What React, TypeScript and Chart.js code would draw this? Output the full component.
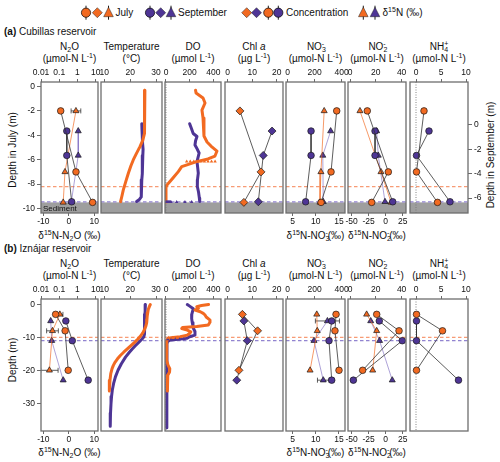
import React, { useEffect, useRef } from "react";
import { Chart, registerables } from "chart.js";

Chart.register(...registerables);

const FONT = '"Liberation Sans", Arial, Helvetica, sans-serif';
Chart.defaults.font.family = FONT;

// ---------------- tick labels ----------------
const n2oTicks = [0.01, 0.1, 1, 10];
const d15N2OTicks = [-10, 0, 10];
const tempTicks = [10, 20, 30];
const doTicks = [0, 200, 400];
const chlTicks = [0, 10, 20];
const no3Ticks = [0, 200, 400];
const d15NO3Ticks = [5, 10, 15];
const no2Ticks = [0, 20, 40];
const d15NO2Ticks = [-50, -25, 0, 25];
const nh4Ticks = [0, 5, 10];
const cubJulyDepthTicks = [0, -2, -4, -6, -8, -10];
const cubSeptDepthTicks = [0, -2, -4, -6];
const izDepthTicks = [0, -10, -20, -30];

// ---------------- (a) Cubillas: discrete samples ----------------
const cubJulyDepth = [-2, -7, -9.5];
const cubSeptDepth = [-0.5, -2.5, -6.3];
const cubJulyN2O = [0.12, 0.83, 6.8];
const cubSeptN2O = [0.26, 0.26, 0.48];
const cubJulyD15N2O = [2.8, -1.5, -2.2];
const cubJulyD15N2OErr = [1.9, 0, 0];
const cubSeptD15N2O = [3.7, 3.7, 1.0];
const cubJulyChl = [5.0, 13.6, 6.6];
const cubSeptChl = [18.1, 14.5, 12.5];
const cubJulyNO3 = [363, 321, 247];
const cubSeptNO3 = [173, 173, 133];
const cubJulyD15NO3 = [11.8, 11.1, 10.9];
const cubSeptD15NO3 = [13.2, 11.5, 11.6];
const cubJulyNO2 = [13.4, 29.7, 16.8];
const cubSeptNO2 = [19.4, 19.4, 33.1];
const cubJulyD15NO2 = [-37.8, -6.9, 8.0];
const cubSeptD15NO2 = [-13.3, -10.9, -1.0];
const cubJulyNH4 = [1.6, 0.1, 4.3];
const cubSeptNH4 = [2.6, 0.1, 6.8];

// ---------------- (a) Cubillas: profiles ----------------
const cubJulyTempDepth = [-0.3, -1.0, -2.0, -3.0, -3.84, -4.4, -4.93, -5.5, -6.02, -6.5, -7.11, -7.8, -8.48, -9.0, -9.44];
const cubJulyTemp = [25.7, 25.7, 25.6, 25.5, 25.4, 24.9, 23.8, 22.4, 21.2, 20.3, 19.3, 18.3, 17.35, 16.8, 16.3];
const cubSeptTempDepth = [0.1, -0.5, -1.0, -1.5, -2.0, -2.5, -3.0, -3.5, -4.0, -4.5, -5.0, -5.5, -5.9, -6.1, -6.28];
const cubSeptTemp = [24.5, 24.6, 24.7, 24.9, 25.0, 24.9, 24.8, 24.7, 24.6, 24.5, 24.4, 24.3, 24.2, 23.6, 22.5];
const cubJulyDODepth = [-0.3, -0.53, -0.94, -1.35, -1.93, -2.58, -3.24, -4.06, -4.55, -4.88, -5.29, -5.7, -5.94, -6.16, -6.57, -6.98, -7.5, -8.07, -8.24, -9.47];
const cubJulyDO = [250, 254, 313, 330, 304, 313, 321, 321, 347, 380, 431, 414, 355, 259, 133, 104, 59, 8, 0, 0];
const cubSeptDODepth = [0.1, -0.3, -0.7, -0.95, -1.3, -1.65, -2.0, -2.3, -2.7, -3.0, -3.5, -3.95, -4.5, -5.05, -5.5, -6.0, -6.28];
const cubSeptDO = [200, 215, 230, 262, 250, 245, 265, 280, 270, 262, 268, 273, 266, 265, 275, 282, 285];
const cubJulyDORunDepth = -6.15;
const cubJulyDORun = [175, 205, 235, 265, 295, 325, 355, 385, 415];
const cubSeptDORunDepth = -6.32;
const cubSeptDORun = [0, 6, 12, 18, 24, 30, 36, 42, 90, 160, 217];
const cubSedimentJuly = -9.5;
const cubJulyOxycline = -8.2;
const cubSeptOxycline = -6.3;

// ---------------- (b) Iznájar: discrete samples ----------------
const izJulyDepth = [-3, -8, -20];
const izSeptDepth = [-5, -11, -23];
const izJulyN2O = [0.063, 0.21, 0.31];
const izSeptN2O = [0.23, 0.52, 3.9];
const izJulyD15N2O = [-3.5, -6.4, -7.6];
const izJulyD15N2OErr = [1.2, 2.3, 3.4];
const izSeptD15N2O = [-7.1, -6.7, -2.2];
const izJulyChl = [6.0, 12.2, 4.6];
const izSeptChl = [6.6, 8.0, 3.7];
const izJulyNO3 = [358, 350, 380];
const izSeptNO3 = [326, 306, 326];
const izJulyD15NO3 = [10.2, 10.3, 8.75];
const izSeptD15NO3 = [12.5, 9.6, 11.6];
const izSeptD15NO3Err = [2.6, 0, 1.25];
const izJulyNO2 = [20.7, 38, 9.8];
const izSeptNO2 = [22.7, 40.5, 2.6];
const izJulyD15NO2 = [-28, -13.2, -19.1];
const izSeptD15NO2 = [-22, -9, 9.7];
const izJulyNH4 = [0.1, 5.3, 0.1];
const izSeptNH4 = [0.1, 0.1, 8.5];

// ---------------- (b) Iznájar: profiles ----------------
const izJulyTempDepth = [0, -0.5, -1.5, -2.5, -3.5, -4.5, -5.5, -6.5, -7.5, -8.5, -9.5, -10.5, -11.5, -12.5, -13.5, -14.5, -15.5, -16.5, -17.5, -18.5, -19.5, -21, -23, -25, -26.3];
const izJulyTemp = [27.8, 27.5, 27.0, 26.8, 26.6, 26.5, 26.4, 26.1, 25.6, 25.0, 24.1, 23.0, 21.7, 20.3, 18.9, 17.5, 16.2, 15.1, 14.2, 13.5, 13.0, 12.5, 12.2, 12.0, 11.9];
const izSeptTempDepth = [0, -1, -2, -3, -4, -5, -6, -7, -8, -9, -9.8, -10.5, -11.5, -12.5, -13.5, -14.5, -16, -18, -20, -22, -24, -26, -28, -30, -33, -37];
const izSeptTemp = [25.9, 25.8, 25.8, 25.7, 25.7, 25.6, 25.6, 25.5, 25.5, 25.4, 25.3, 24.6, 23.3, 22.0, 20.8, 19.7, 18.2, 16.6, 15.3, 14.3, 13.6, 13.1, 12.8, 12.6, 12.4, 12.3];
const izJulyDODepth = [0, -0.3, -0.7, -1.2, -1.7, -2.2, -2.7, -3.2, -3.8, -4.7, -5.4, -6.2, -6.7, -7.0, -7.3, -7.8, -8.3, -8.8, -9.3, -9.8, -10.0, -10.2, -10.6, -11.2, -13, -15, -17, -18.5, -19.5, -20.5, -21.5, -23, -25, -26.3];
const izJulyDO = [360, 300, 260, 274, 245, 290, 315, 330, 340, 370, 372, 358, 260, 140, 133, 180, 210, 200, 180, 120, 60, 30, 12, 6, 5, 5, 8, 18, 32, 30, 15, 10, 12, 14];
const izSeptDODepth = [0, -0.5, -1.3, -2.0, -3.0, -4.3, -5.5, -6.5, -7.3, -8.2, -9.3, -9.8, -10.3, -10.6, -10.9, -11.2, -12, -16, -20, -25, -30, -34, -37.5];
const izSeptDO = [180, 200, 231, 225, 218, 217, 222, 228, 232, 245, 245, 200, 175, 100, 30, 14, 8, 7, 7, 7, 7, 7, 7];
const izJulyDORunDepth = -10.1;
const izJulyDORun = [20, 55, 95];
const izSeptDORunDepth = -10.6;
const izSeptDORun = [15, 45, 80, 115, 150];
const izJulyOxycline = -10;
const izSeptOxycline = -11;

// ---------------- styles / layout ----------------
const ORANGE = "#F26A21";
const PURPLE = "#4E3595";
const ORANGE_LINE = "rgba(242,106,33,0.85)";
const PURPLE_LINE = "rgba(110,90,185,0.7)";
const CONC_LINE = "#333";
const ORANGE_DASH = "rgba(247,150,110,0.95)";
const PURPLE_DASH = "rgba(140,125,205,0.95)";

const FRAMES_X = [[41, 98], [101, 162], [165, 221], [225, 283], [286, 345], [348, 406], [410, 468]];
const PANEL_Y = { a: [82, 213], b: [299, 431] };
const R = {
  n2o: [0.0099, 13.5], d15n2o: [-10.9, 11.45], temp: [8.72, 32.32], do: [-8.45, 465], chl: [-1.1, 22.57],
  no3: [-12.6, 424.4], d15no3: [3.55, 16.3], no2: [-1.55, 43.4], d15no2: [-55.4, 29.9], nh4: [-1.2, 10.4],
  cubJuly: [-10.37, 0.37], cubSept: [-7.22, 3.52], iz: [-38.45, 1.67],
};
const TOP_H = 20;
const BOT_H = 20;
const SIDE = 15;

const zip = (xs: number[], ys: number[]) => xs.map((x, i) => ({ x, y: ys[i] }));

function markers(xs, ys, color, style, xID, yID, lineColor, radius, order, errX?) {
  return {
    data: zip(xs, ys), showLine: true, borderColor: lineColor, borderWidth: 0.8,
    pointStyle: style, pointRadius: radius, pointBackgroundColor: color,
    pointBorderColor: "#1a1a1a", pointBorderWidth: 0.7, xAxisID: xID, yAxisID: yID, order, errX,
  };
}
function profile(xs, ys, color, yID) {
  return {
    data: zip(xs, ys), showLine: true, borderColor: color, borderWidth: 3, pointRadius: 0,
    xAxisID: "x", yAxisID: yID, order: 5, borderJoinStyle: "round", borderCapStyle: "round",
  };
}
function run(xs, depth, color, yID) {
  return {
    data: xs.map((x) => ({ x, y: depth })), showLine: false, pointStyle: "triangle", pointRadius: 2,
    pointBackgroundColor: color, pointBorderWidth: 0, borderColor: color, xAxisID: "x", yAxisID: yID, order: 4,
  };
}

const fmt = (v: number) => String(v);
const tickFont = { family: FONT, size: 8.5 };

function xScale(type, range, ticks, position) {
  return {
    type, position, axis: "x", min: range[0], max: range[1], bounds: "data",
    afterBuildTicks: (s) => { s.ticks = ticks.map((v) => ({ value: v })); },
    afterFit: (s) => { s.height = position === "top" ? TOP_H : BOT_H; },
    ticks: { font: tickFont, color: "#111", padding: 1, autoSkip: false, maxRotation: 0, minRotation: 0, callback: fmt },
    grid: { display: true, drawOnChartArea: false, drawTicks: true, tickLength: 3, color: "#444", lineWidth: 0.8 },
    border: { display: false },
  };
}
function yScale(range, ticks, position, display, width) {
  return {
    type: "linear", axis: "y", position, min: range[0], max: range[1], bounds: "data", display,
    afterBuildTicks: (s) => { s.ticks = ticks.map((v) => ({ value: v })); },
    afterFit: (s) => { if (display) s.width = width; },
    ticks: { font: tickFont, color: "#111", padding: 2, autoSkip: false, callback: fmt },
    grid: { display: true, drawOnChartArea: false, drawTicks: true, tickLength: 4, color: "#444", lineWidth: 0.8 },
    border: { display: false },
  };
}

const decoPlugin = {
  id: "deco",
  beforeDatasetsDraw(chart, _args, opts) {
    const { ctx, chartArea: a, scales } = chart;
    ctx.save();
    ctx.beginPath();
    ctx.rect(a.left, a.top, a.right - a.left, a.bottom - a.top);
    ctx.clip();
    if (opts.sediment != null) {
      const y = scales.y.getPixelForValue(opts.sediment);
      ctx.fillStyle = "#9e9e9e";
      ctx.fillRect(a.left, y, a.right - a.left, a.bottom - y);
      if (opts.sedimentLabel) {
        ctx.fillStyle = "#111";
        ctx.font = `8px ${FONT}`;
        ctx.textBaseline = "alphabetic";
        ctx.fillText(opts.sedimentLabel, a.left + 2, a.bottom - 2.5);
      }
    }
    if (opts.zero) {
      const x = scales.x.getPixelForValue(0);
      ctx.strokeStyle = "#777";
      ctx.lineWidth = 0.9;
      ctx.setLineDash([1, 1.5]);
      ctx.beginPath();
      ctx.moveTo(x, a.top);
      ctx.lineTo(x, a.bottom);
      ctx.stroke();
    }
    for (const h of opts.hlines || []) {
      const y = scales[h.axis].getPixelForValue(h.value);
      ctx.strokeStyle = h.color;
      ctx.lineWidth = 1.2;
      ctx.setLineDash([3.5, 2.5]);
      ctx.beginPath();
      ctx.moveTo(a.left, y);
      ctx.lineTo(a.right, y);
      ctx.stroke();
    }
    ctx.setLineDash([]);
    chart.data.datasets.forEach((ds) => {
      if (!ds.errX) return;
      const xs = scales[ds.xAxisID];
      const ys = scales[ds.yAxisID];
      ds.data.forEach((p, j) => {
        const e = ds.errX[j];
        if (!e) return;
        const x0 = xs.getPixelForValue(p.x - e);
        const x1 = xs.getPixelForValue(p.x + e);
        const y = ys.getPixelForValue(p.y);
        ctx.strokeStyle = "#333";
        ctx.lineWidth = 0.8;
        ctx.beginPath();
        ctx.moveTo(x0, y); ctx.lineTo(x1, y);
        ctx.moveTo(x0, y - 2.5); ctx.lineTo(x0, y + 2.5);
        ctx.moveTo(x1, y - 2.5); ctx.lineTo(x1, y + 2.5);
        ctx.stroke();
      });
    });
    ctx.restore();
  },
  afterDraw(chart) {
    const { ctx, chartArea: a } = chart;
    ctx.save();
    ctx.strokeStyle = "#6e6e6e";
    ctx.lineWidth = 1.3;
    ctx.strokeRect(a.left, a.top, a.right - a.left, a.bottom - a.top);
    ctx.restore();
  },
};

type Spec = { cl: number; ct: number; cw: number; ch: number; make: () => any };

function spec(col, panel, xTop, xBot, datasets, deco, showLeft, showRight, yL, yR) {
  const [l, r] = FRAMES_X[col];
  const [t, b] = PANEL_Y[panel];
  const cl = showLeft ? 0 : l - SIDE;
  const cr = showRight ? 500 : r + SIDE;
  const ct = t - TOP_H;
  const ch = b - t + TOP_H + BOT_H;
  const make = () => {
    const scales: any = {
      x: xScale(xTop.type, xTop.range, xTop.ticks, "top"),
      y: yScale(yL.range, yL.ticks, "left", showLeft, l - cl),
    };
    if (xBot) scales.x2 = xScale("linear", xBot.range, xBot.ticks, "bottom");
    if (yR) scales.y2 = yScale(yR.range, yR.ticks, "right", showRight, cr - r);
    return {
      type: "scatter",
      data: { datasets: datasets() },
      options: {
        responsive: false, maintainAspectRatio: false, animation: false,
        layout: { padding: { left: showLeft ? 0 : SIDE, right: showRight ? 0 : SIDE, top: 0, bottom: xBot ? 0 : BOT_H } },
        scales,
        plugins: { legend: { display: false }, tooltip: { enabled: false }, deco },
      },
      plugins: [decoPlugin],
    };
  };
  return { cl, ct, cw: cr - cl, ch, make } as Spec;
}

function buildSpecs(): Spec[] {
  const out: Spec[] = [];
  // ---------- (a) Cubillas ----------
  const yA = { range: R.cubJuly, ticks: cubJulyDepthTicks };
  const yA2 = { range: R.cubSept, ticks: cubSeptDepthTicks };
  const decoA = (extra = {}) => ({
    sediment: cubSedimentJuly,
    hlines: [{ axis: "y", value: cubJulyOxycline, color: ORANGE_DASH }, { axis: "y2", value: cubSeptOxycline, color: PURPLE_DASH }],
    ...extra,
  });
  out.push(spec(0, "a", { type: "logarithmic", range: R.n2o, ticks: n2oTicks }, { range: R.d15n2o, ticks: d15N2OTicks }, () => [
    markers(cubJulyN2O, cubJulyDepth, ORANGE, "circle", "x", "y", CONC_LINE, 3.3, 1),
    markers(cubSeptN2O, cubSeptDepth, PURPLE, "circle", "x", "y2", CONC_LINE, 3.3, 1),
    markers(cubJulyD15N2O, cubJulyDepth, ORANGE, "triangle", "x2", "y", ORANGE_LINE, 3.5, 2, cubJulyD15N2OErr),
    markers(cubSeptD15N2O, cubSeptDepth, PURPLE, "triangle", "x2", "y2", PURPLE_LINE, 3.5, 2),
  ], decoA({ sedimentLabel: "Sediment" }), true, false, yA, yA2));
  out.push(spec(1, "a", { type: "linear", range: R.temp, ticks: tempTicks }, null, () => [
    profile(cubJulyTemp, cubJulyTempDepth, ORANGE, "y"),
    profile(cubSeptTemp, cubSeptTempDepth, PURPLE, "y2"),
  ], decoA(), false, false, yA, yA2));
  out.push(spec(2, "a", { type: "linear", range: R.do, ticks: doTicks }, null, () => [
    profile(cubJulyDO, cubJulyDODepth, ORANGE, "y"),
    profile(cubSeptDO, cubSeptDODepth, PURPLE, "y2"),
    run(cubJulyDORun, cubJulyDORunDepth, ORANGE, "y"),
    run(cubSeptDORun, cubSeptDORunDepth, PURPLE, "y2"),
  ], decoA({ zero: true }), false, false, yA, yA2));
  out.push(spec(3, "a", { type: "linear", range: R.chl, ticks: chlTicks }, null, () => [
    markers(cubJulyChl, cubJulyDepth, ORANGE, "rectRot", "x", "y", CONC_LINE, 4, 1),
    markers(cubSeptChl, cubSeptDepth, PURPLE, "rectRot", "x", "y2", CONC_LINE, 4, 1),
  ], decoA(), false, false, yA, yA2));
  out.push(spec(4, "a", { type: "linear", range: R.no3, ticks: no3Ticks }, { range: R.d15no3, ticks: d15NO3Ticks }, () => [
    markers(cubJulyNO3, cubJulyDepth, ORANGE, "circle", "x", "y", CONC_LINE, 3.3, 1),
    markers(cubSeptNO3, cubSeptDepth, PURPLE, "circle", "x", "y2", CONC_LINE, 3.3, 1),
    markers(cubJulyD15NO3, cubJulyDepth, ORANGE, "triangle", "x2", "y", ORANGE_LINE, 3.5, 2),
    markers(cubSeptD15NO3, cubSeptDepth, PURPLE, "triangle", "x2", "y2", PURPLE_LINE, 3.5, 2),
  ], decoA(), false, false, yA, yA2));
  out.push(spec(5, "a", { type: "linear", range: R.no2, ticks: no2Ticks }, { range: R.d15no2, ticks: d15NO2Ticks }, () => [
    markers(cubJulyNO2, cubJulyDepth, ORANGE, "circle", "x", "y", CONC_LINE, 3.3, 1),
    markers(cubSeptNO2, cubSeptDepth, PURPLE, "circle", "x", "y2", CONC_LINE, 3.3, 1),
    markers(cubJulyD15NO2, cubJulyDepth, ORANGE, "triangle", "x2", "y", ORANGE_LINE, 3.5, 2),
    markers(cubSeptD15NO2, cubSeptDepth, PURPLE, "triangle", "x2", "y2", PURPLE_LINE, 3.5, 2),
  ], decoA(), false, false, yA, yA2));
  out.push(spec(6, "a", { type: "linear", range: R.nh4, ticks: nh4Ticks }, null, () => [
    markers(cubJulyNH4, cubJulyDepth, ORANGE, "circle", "x", "y", CONC_LINE, 3.3, 1),
    markers(cubSeptNH4, cubSeptDepth, PURPLE, "circle", "x", "y2", CONC_LINE, 3.3, 1),
  ], decoA({ zero: true }), false, true, yA, yA2));

  // ---------- (b) Iznájar ----------
  const yB = { range: R.iz, ticks: izDepthTicks };
  const decoB = (extra = {}) => ({
    sediment: null,
    hlines: [{ axis: "y", value: izJulyOxycline, color: ORANGE_DASH }, { axis: "y", value: izSeptOxycline, color: PURPLE_DASH }],
    ...extra,
  });
  out.push(spec(0, "b", { type: "logarithmic", range: R.n2o, ticks: n2oTicks }, { range: R.d15n2o, ticks: d15N2OTicks }, () => [
    markers(izJulyN2O, izJulyDepth, ORANGE, "circle", "x", "y", CONC_LINE, 3.3, 1),
    markers(izSeptN2O, izSeptDepth, PURPLE, "circle", "x", "y", CONC_LINE, 3.3, 1),
    markers(izJulyD15N2O, izJulyDepth, ORANGE, "triangle", "x2", "y", ORANGE_LINE, 3.5, 2, izJulyD15N2OErr),
    markers(izSeptD15N2O, izSeptDepth, PURPLE, "triangle", "x2", "y", PURPLE_LINE, 3.5, 2),
  ], decoB(), true, false, yB, null));
  out.push(spec(1, "b", { type: "linear", range: R.temp, ticks: tempTicks }, null, () => [
    profile(izJulyTemp, izJulyTempDepth, ORANGE, "y"),
    profile(izSeptTemp, izSeptTempDepth, PURPLE, "y"),
  ], decoB(), false, false, yB, null));
  out.push(spec(2, "b", { type: "linear", range: R.do, ticks: doTicks }, null, () => [
    profile(izJulyDO, izJulyDODepth, ORANGE, "y"),
    profile(izSeptDO, izSeptDODepth, PURPLE, "y"),
    run(izJulyDORun, izJulyDORunDepth, ORANGE, "y"),
    run(izSeptDORun, izSeptDORunDepth, PURPLE, "y"),
  ], decoB({ zero: true }), false, false, yB, null));
  out.push(spec(3, "b", { type: "linear", range: R.chl, ticks: chlTicks }, null, () => [
    markers(izJulyChl, izJulyDepth, ORANGE, "rectRot", "x", "y", CONC_LINE, 4, 1),
    markers(izSeptChl, izSeptDepth, PURPLE, "rectRot", "x", "y", CONC_LINE, 4, 1),
  ], decoB(), false, false, yB, null));
  out.push(spec(4, "b", { type: "linear", range: R.no3, ticks: no3Ticks }, { range: R.d15no3, ticks: d15NO3Ticks }, () => [
    markers(izJulyNO3, izJulyDepth, ORANGE, "circle", "x", "y", CONC_LINE, 3.3, 1),
    markers(izSeptNO3, izSeptDepth, PURPLE, "circle", "x", "y", CONC_LINE, 3.3, 1),
    markers(izJulyD15NO3, izJulyDepth, ORANGE, "triangle", "x2", "y", ORANGE_LINE, 3.5, 2),
    markers(izSeptD15NO3, izSeptDepth, PURPLE, "triangle", "x2", "y", PURPLE_LINE, 3.5, 2, izSeptD15NO3Err),
  ], decoB(), false, false, yB, null));
  out.push(spec(5, "b", { type: "linear", range: R.no2, ticks: no2Ticks }, { range: R.d15no2, ticks: d15NO2Ticks }, () => [
    markers(izJulyNO2, izJulyDepth, ORANGE, "circle", "x", "y", CONC_LINE, 3.3, 1),
    markers(izSeptNO2, izSeptDepth, PURPLE, "circle", "x", "y", CONC_LINE, 3.3, 1),
    markers(izJulyD15NO2, izJulyDepth, ORANGE, "triangle", "x2", "y", ORANGE_LINE, 3.5, 2),
    markers(izSeptD15NO2, izSeptDepth, PURPLE, "triangle", "x2", "y", PURPLE_LINE, 3.5, 2),
  ], decoB(), false, false, yB, null));
  out.push(spec(6, "b", { type: "linear", range: R.nh4, ticks: nh4Ticks }, null, () => [
    markers(izJulyNH4, izJulyDepth, ORANGE, "circle", "x", "y", CONC_LINE, 3.3, 1),
    markers(izSeptNH4, izSeptDepth, PURPLE, "circle", "x", "y", CONC_LINE, 3.3, 1),
  ], decoB({ zero: true }), false, false, yB, null));
  return out;
}

// ---------------- text helpers ----------------
const SUB: React.CSSProperties = { fontSize: "7px", verticalAlign: "-2px", lineHeight: 0 };
const SUP: React.CSSProperties = { fontSize: "7px", verticalAlign: "4px", lineHeight: 0 };

function Txt({ x, y, children, anchor = "middle", size = 10, rotate = false, bold = false }: any) {
  const tx = anchor === "start" ? "0" : "-50%";
  return (
    <div
      style={{
        position: "absolute", left: x, top: y, whiteSpace: "nowrap", fontSize: size, lineHeight: "12px",
        fontWeight: bold ? "bold" : "normal",
        transform: `translate(${tx},-50%)${rotate ? " rotate(-90deg)" : ""}`,
      }}
    >
      {children}
    </div>
  );
}
function RotTxt({ x, y, children }: any) {
  return (
    <div style={{ position: "absolute", left: x, top: y, whiteSpace: "nowrap", fontSize: 10, lineHeight: "12px", transform: "translate(-50%,-50%) rotate(-90deg)" }}>
      {children}
    </div>
  );
}

const UNIT_N = <>(µmol-N L<span style={SUP}>-1</span>)</>;
const colHeaders = [
  { name: <>N<span style={SUB}>2</span>O</>, unit: UNIT_N },
  { name: <>Temperature</>, unit: <>(°C)</> },
  { name: <>DO</>, unit: <>(µmol L<span style={SUP}>-1</span>)</> },
  { name: <>Chl <i>a</i></>, unit: <>(µg L<span style={SUP}>-1</span>)</> },
  { name: <>NO<span style={SUB}>3</span><span style={{ ...SUP, marginLeft: -4 }}>-</span></>, unit: UNIT_N },
  { name: <>NO<span style={SUB}>2</span><span style={{ ...SUP, marginLeft: -4 }}>-</span></>, unit: UNIT_N },
  { name: <>NH<span style={SUB}>4</span><span style={{ ...SUP, marginLeft: -4 }}>+</span></>, unit: UNIT_N },
];
const bottomLabels = [
  { col: 0, text: <>δ<span style={SUP}>15</span>N-N<span style={SUB}>2</span>O (‰)</> },
  { col: 4, text: <>δ<span style={SUP}>15</span>N-NO<span style={SUB}>3</span><span style={{ ...SUP, marginLeft: -4 }}>-</span>(‰)</> },
  { col: 5, text: <>δ<span style={SUP}>15</span>N-NO<span style={SUB}>2</span><span style={{ ...SUP, marginLeft: -4 }}>-</span>(‰)</> },
];

function Legend() {
  const cy = 12.7;
  const circ = (x: number, c: string) => (
    <g key={`c${x}`}>
      <line x1={x} y1={cy - 7} x2={x} y2={cy + 7} stroke="#000" strokeWidth={0.9} />
      <circle cx={x} cy={cy} r={4.6} fill={c} stroke="#000" strokeWidth={0.7} />
    </g>
  );
  const dia = (x: number, c: string) => (
    <polygon key={`d${x}`} points={`${x},${cy - 5} ${x + 5},${cy} ${x},${cy + 5} ${x - 5},${cy}`} fill={c} stroke="#222" strokeWidth={0.5} />
  );
  const tri = (x: number, c: string) => (
    <g key={`t${x}`}>
      <line x1={x} y1={cy - 7} x2={x} y2={cy + 7} stroke="#000" strokeWidth={0.9} />
      <polygon points={`${x},${cy - 5.5} ${x + 4.8},${cy + 4} ${x - 4.8},${cy + 4}`} fill={c} stroke="#222" strokeWidth={0.5} />
    </g>
  );
  return (
    <>
      <svg width={500} height={28} style={{ position: "absolute", left: 0, top: 0 }}>
        {circ(86, ORANGE)}{dia(97.3, ORANGE)}{tri(108.5, ORANGE)}
        {circ(150, PURPLE)}{dia(160.7, PURPLE)}{tri(171, PURPLE)}
        {dia(246.7, ORANGE)}{dia(256.5, PURPLE)}{circ(268.3, ORANGE)}{circ(278.3, PURPLE)}
        {tri(363.3, ORANGE)}{tri(375, PURPLE)}
      </svg>
      <Txt x={115.5} y={cy} anchor="start">July</Txt>
      <Txt x={178} y={cy} anchor="start">September</Txt>
      <Txt x={286} y={cy} anchor="start">Concentration</Txt>
      <Txt x={382.5} y={cy} anchor="start">δ<span style={SUP}>15</span>N (‰)</Txt>
    </>
  );
}

function PanelText({ top, title, name }: { top: number; title: string; name: string }) {
  // top = frame top of the panel
  return (
    <>
      <Txt x={4} y={top - 50} anchor="start"><b>{title}</b> {name}</Txt>
      {colHeaders.map((h, i) => {
        const cx = (FRAMES_X[i][0] + FRAMES_X[i][1]) / 2;
        return (
          <React.Fragment key={i}>
            <Txt x={cx} y={top - 35}>{h.name}</Txt>
            <Txt x={cx} y={top - 23}>{h.unit}</Txt>
          </React.Fragment>
        );
      })}
    </>
  );
}

export default function App() {
  const refs = useRef<(HTMLCanvasElement | null)[]>([]);
  const specs = buildSpecs();
  useEffect(() => {
    document.body.style.margin = "0";
    const charts = buildSpecs().map((s, i) => new Chart(refs.current[i] as HTMLCanvasElement, s.make()));
    return () => charts.forEach((c) => c.destroy());
  }, []);
  const [aT, aB] = PANEL_Y.a;
  const [bT, bB] = PANEL_Y.b;
  return (
    <div style={{ position: "absolute", left: 0, top: 0, width: 500, height: 462, background: "#fff", fontFamily: FONT, color: "#111", overflow: "hidden" }}>
      <Legend />
      <PanelText top={aT} title="(a)" name="Cubillas reservoir" />
      <PanelText top={bT} title="(b)" name="Iznájar reservoir" />
      {bottomLabels.map((bl, i) => {
        const cx = (FRAMES_X[bl.col][0] + FRAMES_X[bl.col][1]) / 2;
        return (
          <React.Fragment key={i}>
            <Txt x={cx} y={aB + 23}>{bl.text}</Txt>
            <Txt x={cx} y={bB + 22}>{bl.text}</Txt>
          </React.Fragment>
        );
      })}
      <RotTxt x={13} y={150}>Depth in July (m)</RotTxt>
      <RotTxt x={491} y={155}>Depth in September (m)</RotTxt>
      <RotTxt x={13} y={360}>Depth (m)</RotTxt>
      {specs.map((s, i) => (
        <canvas
          key={i}
          ref={(el) => { refs.current[i] = el; }}
          width={s.cw}
          height={s.ch}
          style={{ position: "absolute", left: s.cl, top: s.ct, width: s.cw, height: s.ch }}
        />
      ))}
    </div>
  );
}
